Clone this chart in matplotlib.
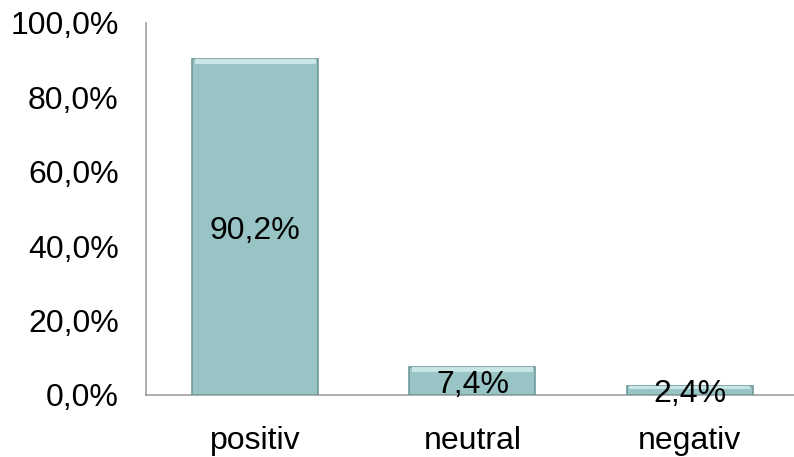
import matplotlib.pyplot as plt
import numpy as np

categories = ["positiv", "neutral", "negativ"]
values = [90.2, 7.4, 2.4]
yticks = [0, 20, 40, 60, 80, 100]

plt.rcParams["font.family"] = ["Liberation Sans", "DejaVu Sans"]

fig = plt.figure(figsize=(7.94, 4.57), dpi=100)
ax = fig.add_axes([0.1845, 0.1357, 0.821, 0.814])

x = np.arange(len(categories))
bars = ax.bar(x, values, width=0.58, color="#98C4C5", edgecolor="#6F9A9B",
              linewidth=1.2, zorder=3)

# light bevel along the top of each bar
for b in bars:
    h = min(1.2, b.get_height() * 0.3)
    ax.bar(b.get_x() + b.get_width() / 2, h, bottom=b.get_height() - h,
           width=b.get_width() * 0.96, color="#C9E6E6", linewidth=0, zorder=4)

for xi, v in zip(x, values):
    ax.text(xi, v / 2, f"{v:.1f}%".replace(".", ","), ha="center",
            va="center_baseline", fontsize=23, color="black", zorder=5)

ax.set_xlim(-0.5, 2.5)
ax.set_ylim(0, 100)
ax.set_yticks(yticks)
ax.set_yticklabels([f"{t:.1f}%".replace(".", ",") for t in yticks], fontsize=23)
ax.set_xticks(x)
ax.set_xticklabels(categories, fontsize=23)
ax.tick_params(axis="y", length=0, pad=20)
ax.tick_params(axis="x", length=0, pad=22)

for side in ["top", "right"]:
    ax.spines[side].set_visible(False)
ax.spines["left"].set_color("#A0A0A0")
ax.spines["bottom"].set_color("#A0A0A0")
ax.spines["left"].set_linewidth(1.2)
ax.spines["bottom"].set_linewidth(1.2)

fig.savefig("out.png", dpi=100)
